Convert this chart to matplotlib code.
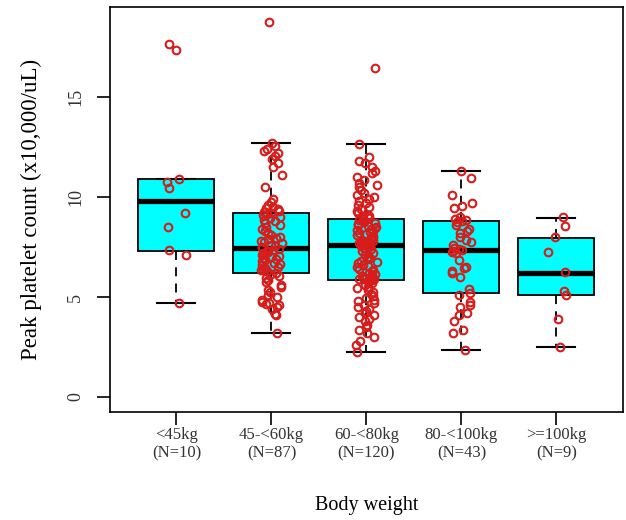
import numpy as np
import matplotlib
matplotlib.use("Agg")
import matplotlib.pyplot as plt

plt.rcParams['font.family'] = ['Liberation Serif', 'DejaVu Serif']

# groups on the x axis
groups = ['<45kg', '45-<60kg', '60-<80kg', '80-<100kg', '>=100kg']
counts = [10, 87, 120, 43, 9]

# box statistics
med = [9.8, 7.45, 7.6, 7.35, 6.2]
q1 = [7.3, 6.2, 5.85, 5.2, 5.1]
q3 = [10.9, 9.2, 8.9, 8.8, 7.95]
wlo = [4.7, 3.2, 2.25, 2.35, 2.5]
whi = [10.9, 12.7, 12.65, 11.3, 8.95]

# individual patients (peak platelet count, x10,000/uL)
g1 = [17.65, 17.35, 10.9, 10.75, 10.45, 9.2, 8.5, 7.35, 7.1, 4.7]
g2 = [18.75, 12.7, 12.55, 12.4, 12.3, 12.2, 12.05, 11.9, 11.7, 11.5, 11.1,
      10.5, 9.9, 9.75, 9.6, 9.5, 9.45, 9.4, 9.3, 9.25, 9.2,
      9.15, 9.1, 9.0, 8.95, 8.85, 8.8, 8.7, 8.6, 8.5, 8.4, 8.3, 8.2, 8.1,
      8.0, 7.95, 7.9, 7.8, 7.75, 7.7, 7.6, 7.55, 7.5, 7.45,
      7.4, 7.35, 7.3, 7.25, 7.2, 7.15, 7.1, 7.05, 7.0, 6.95, 6.9, 6.85,
      6.8, 6.7, 6.65, 6.6, 6.5, 6.45, 6.4, 6.35, 6.3, 6.2,
      6.15, 6.05, 5.95, 5.85, 5.75, 5.6, 5.5, 5.35, 5.25, 5.1, 5.0,
      4.85, 4.75, 4.7, 4.65, 4.6, 4.5, 4.4, 4.15, 4.1, 3.2]
g3 = [16.45, 12.65, 12.0, 11.8, 11.7, 11.5, 11.3, 11.2, 11.0, 10.85,
      10.7, 10.6, 10.5, 10.35, 10.2, 10.1, 10.0, 9.9, 9.8, 9.7, 9.6, 9.5,
      9.4, 9.3, 9.2, 9.1, 9.05, 9.0, 8.95, 8.9,
      8.85, 8.8, 8.75, 8.7, 8.65, 8.6, 8.55, 8.5, 8.45, 8.4, 8.35, 8.3,
      8.25, 8.2, 8.15, 8.1, 8.05, 8.0, 7.95, 7.9, 7.85, 7.8, 7.75, 7.72,
      7.7, 7.68, 7.65, 7.63, 7.6,
      7.55, 7.5, 7.45, 7.4, 7.3, 7.2, 7.1, 7.0, 6.95, 6.9, 6.8, 6.75,
      6.7, 6.6, 6.55, 6.5, 6.4, 6.35, 6.3, 6.2, 6.15, 6.1, 6.05, 6.0,
      5.97, 5.95, 5.92, 5.9, 5.88, 5.86, 5.85,
      5.8, 5.7, 5.6, 5.5, 5.45, 5.35, 5.25, 5.15, 5.05, 4.95, 4.85, 4.8,
      4.7, 4.6, 4.5, 4.4, 4.3, 4.2, 4.1, 4.0, 3.9, 3.8, 3.6, 3.5, 3.35,
      3.2, 3.0, 2.8, 2.6, 2.25]
g4 = [11.3, 10.95, 10.1, 9.7, 9.55, 9.45, 9.0, 8.9, 8.85, 8.8,
      8.75, 8.6, 8.4, 8.3, 8.2, 8.0, 7.85, 7.75, 7.6, 7.45, 7.4, 7.35,
      7.3, 7.25, 7.2, 6.85, 6.5, 6.45, 6.3, 6.2, 6.0, 5.4, 5.2,
      5.1, 4.75, 4.6, 4.5, 4.2, 4.1, 3.8, 3.35, 3.2, 2.35]
g5 = [9.0, 8.55, 8.0, 7.25, 6.25, 5.3, 5.1, 3.9, 2.5]
values = [g1, g2, g3, g4, g5]

fig = plt.figure(figsize=(6.26, 5.2), dpi=100)
ax = fig.add_axes([0.1757, 0.2077, 0.8195, 0.7788])

stats = []
for i in range(len(groups)):
    stats.append(dict(med=med[i], q1=q1[i], q3=q3[i],
                      whislo=wlo[i], whishi=whi[i], fliers=[]))

pos = np.arange(1, len(groups) + 1)
ax.bxp(stats, positions=pos, widths=0.8, patch_artist=True,
       showfliers=False,
       boxprops=dict(facecolor='#00ffff', edgecolor='black', lw=1.3),
       medianprops=dict(color='black', lw=3.8, solid_capstyle='butt'),
       whiskerprops=dict(color='black', lw=1.3, linestyle=(0, (5, 4))),
       capprops=dict(color='black', lw=1.5))

# horizontal jitter like R's jitter()
rng = np.random.default_rng(11)
for i, v in enumerate(values):
    xj = pos[i] + rng.uniform(-0.11, 0.11, len(v))
    ax.plot(xj, v, 'o', mfc='none', mec='#d81c1c', mew=1.5, ms=5.5, zorder=5)

ax.set_xlim(0.3, 5.7)
ax.set_ylim(-0.75, 19.5)
ax.set_yticks([0, 5, 10, 15])
ax.set_yticklabels(['0', '5', '10', '15'], rotation=90, va='center')
ax.set_xticks(pos)
ax.set_xticklabels([g + '\n(N=%d)' % n for g, n in zip(groups, counts)],
                   fontsize=12, color='#333333')
ax.tick_params(axis='y', length=9.5, width=1.2, labelsize=13, pad=9,
               labelcolor='#333333')
ax.tick_params(axis='x', length=9, width=1.2, pad=2)
for s in ax.spines.values():
    s.set_linewidth(1.2)

ax.set_xlabel('Body weight', fontsize=14.5, labelpad=25)
ax.set_ylabel('Peak platelet count (x10,000/uL)', fontsize=16.5, labelpad=18)

fig.savefig('out.png', dpi=100)
